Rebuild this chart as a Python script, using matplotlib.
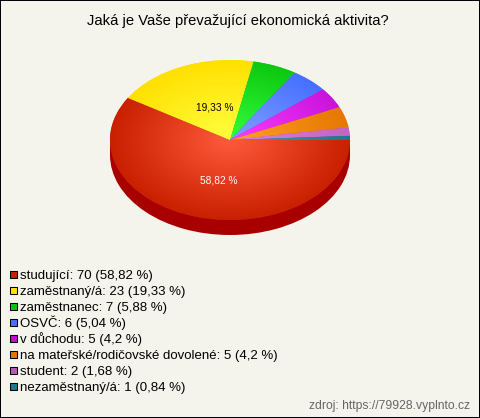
import numpy as np
import matplotlib
matplotlib.use("Agg")
import matplotlib.pyplot as plt
from matplotlib.colors import LinearSegmentedColormap
from matplotlib.patches import Rectangle

plt.rcParams["font.family"] = ["Liberation Sans", "DejaVu Sans"]

title = "Jaká je Vaše převažující ekonomická aktivita?"
source = "zdroj: https://79928.vyplnto.cz"
categories = ["studující", "zaměstnaný/á", "zaměstnanec", "OSVČ", "v důchodu",
              "na mateřské/rodičovské dovolené", "student", "nezaměstnaný/á"]
counts = [70, 23, 7, 6, 5, 5, 2, 1]
percents = ["58,82", "19,33", "5,88", "5,04", "4,2", "4,2", "1,68", "0,84"]
edge_colors = ["#c82000", "#ffe000", "#0cc810", "#4670ff", "#c814dc", "#e67800", "#c364c3", "#1e788c"]
center_colors = ["#ff5a3c", "#ffff40", "#34ff3c", "#82a0ff", "#ff3cff", "#ffa028", "#dc82dc", "#3ca0aa"]
legend_colors = ["#c82000", "#ffe000", "#10c010", "#4670f0", "#c010d0", "#e07800", "#b858b8", "#1e7890"]

W, H = 480, 418
BG = "#f5f4ec"
fig = plt.figure(figsize=(W / 100, H / 100), dpi=100, facecolor=BG)

# whole figure axes in pixels, for texts and the legend
ax = fig.add_axes([0, 0, 1, 1], facecolor=BG)
ax.set_xlim(0, W)
ax.set_ylim(H, 0)
ax.set_xticks([])
ax.set_yticks([])
for s in ax.spines.values():
    s.set_linewidth(1.44)
    s.set_color("black")

ax.text(238, 25, title, ha="center", va="baseline", fontsize=10.65, color="black")
ax.text(470, 409, source, ha="right", va="baseline", fontsize=8.7, color="#666666")

for i, (cat, n, p) in enumerate(zip(categories, counts, percents)):
    y = 274.3 + i * 16.06
    ax.add_patch(Rectangle((9.5, y - 3.5), 7, 7, facecolor=legend_colors[i], edgecolor="black", linewidth=0.75))
    ax.text(20, y + 4.5, f"{cat}: {n} ({p} %)", ha="left", va="baseline", fontsize=9.55, color="black")

# pie axes: 240x160 px ellipse centred on (230, 140)
pie_ax = fig.add_axes([110 / W, 1 - 220 / H, 240 / W, 160 / H])
pie_ax.patch.set_alpha(0)
pie_ax.axis("off")

# side wall
depth = 15 / 80
pie_ax.add_patch(Rectangle((-1, -depth), 2, depth, facecolor="#a80000", edgecolor="none", clip_on=False))
wall, _ = pie_ax.pie([1], radius=1, center=(0, -depth), colors=["#a80000"], frame=False)
wall[0].set_clip_on(False)

wedges, _ = pie_ax.pie(counts, radius=1, startangle=0, counterclock=False, colors=edge_colors,
                       wedgeprops={"linewidth": 0}, frame=False)

# radial shading, clipped to each wedge
gx, gy = np.meshgrid(np.linspace(-1, 1, 480), np.linspace(-1, 1, 320))
dist = np.clip(np.hypot(gx, gy), 0, 1)
for w, c0, c1 in zip(wedges, center_colors, edge_colors):
    w.set_clip_on(False)
    cmap = LinearSegmentedColormap.from_list("shade", [c0, c1])
    im = pie_ax.imshow(dist, cmap=cmap, vmin=0, vmax=1, extent=(-1, 1, -1, 1), origin="lower",
                       aspect="auto", zorder=2)
    im.set_clip_path(w)

pie_ax.set_xlim(-1, 1)
pie_ax.set_ylim(-1, 1)
pie_ax.set_aspect("auto")

ax.set_zorder(0)
pie_ax.set_zorder(1)
pie_ax.text((214.5 - 230) / 120, (140 - 107) / 80, percents[1] + " %", ha="center", va="center",
            fontsize=7.3, color="black", zorder=5)
pie_ax.text((218.7 - 230) / 120, (140 - 180.5) / 80, percents[0] + " %", ha="center", va="center",
            fontsize=7.3, color="white", zorder=5)

fig.savefig("out.png", dpi=100, facecolor=BG)
